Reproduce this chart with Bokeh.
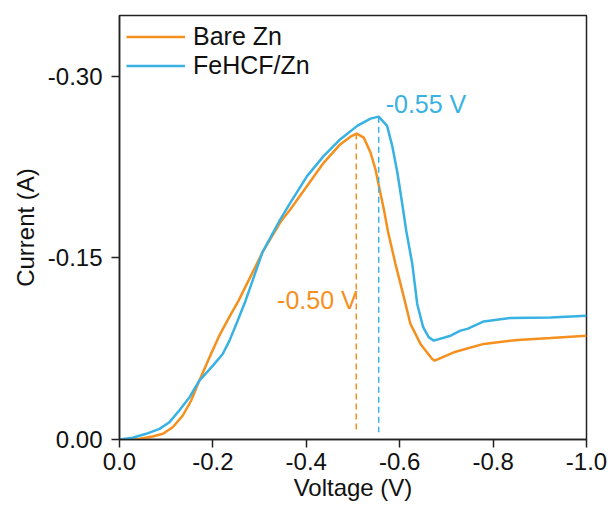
from bokeh.plotting import figure
from bokeh.models import Range1d, Label, Legend, LegendItem, FixedTicker, NumeralTickFormatter
from bokeh.embed import file_html
from bokeh.resources import INLINE

# ---- data ----
bare_v = [0, -0.043, -0.071, -0.093, -0.114, -0.1355, -0.1535, -0.171, -0.193, -0.214,
          -0.235, -0.255, -0.280, -0.306, -0.345, -0.366, -0.402, -0.4375, -0.473, -0.4946,
          -0.508, -0.523, -0.5375, -0.548, -0.555, -0.566, -0.575, -0.591, -0.609, -0.623,
          -0.6445, -0.6695, -0.675, -0.716, -0.780, -0.852, -0.923, -1.0]
bare_i = [0, -0.0006, -0.0025, -0.0047, -0.0101, -0.0198, -0.0322, -0.0486, -0.0680, -0.0860,
          -0.1010, -0.1146, -0.1340, -0.1544, -0.1797, -0.1900, -0.2094, -0.2286, -0.2438, -0.2500,
          -0.2525, -0.2492, -0.2369, -0.2232, -0.2100, -0.1900, -0.1715, -0.1448, -0.1173, -0.0954,
          -0.0789, -0.0665, -0.0651, -0.0720, -0.0789, -0.0822, -0.0838, -0.0857]

fehcf_v = [0, -0.028, -0.057, -0.0857, -0.107, -0.128, -0.150, -0.171, -0.200, -0.221,
           -0.2355, -0.253, -0.270, -0.306, -0.345, -0.366, -0.402, -0.4375, -0.473, -0.509,
           -0.5375, -0.555, -0.573, -0.584, -0.595, -0.605, -0.614, -0.627, -0.6375, -0.650,
           -0.662, -0.673, -0.709, -0.730, -0.745, -0.780, -0.837, -0.923, -1.0]
fehcf_i = [0, -0.0015, -0.0047, -0.0088, -0.0143, -0.0239, -0.0349, -0.0486, -0.0610, -0.0706,
           -0.0816, -0.0981, -0.1146, -0.1544, -0.1822, -0.1956, -0.2176, -0.2341, -0.2479, -0.2589,
           -0.2649, -0.2665, -0.2589, -0.2424, -0.2204, -0.1956, -0.1723, -0.1448, -0.1119, -0.0930,
           -0.0845, -0.0816, -0.0857, -0.0899, -0.0913, -0.0975, -0.1003, -0.1008, -0.1022]

series_names = ["Bare Zn", "FeHCF/Zn"]
peak_v = [-0.507, -0.555]
peak_i = [-0.2525, -0.2665]
dash_end_i = [-0.006, -0.006]
peak_labels = ["-0.50 V", "-0.55 V"]
x_ticks = [0, -0.2, -0.4, -0.6, -0.8, -1.0]
y_ticks = [0, -0.15, -0.30]

ORANGE = "#F5901E"
BLUE = "#38B1E3"
FONT = "Liberation Sans"

p = figure(width=608, height=504, output_backend="svg", toolbar_location=None,
           x_range=Range1d(0, -1.0), y_range=Range1d(0, -0.35),
           min_border_left=119, min_border_right=22, min_border_top=15, min_border_bottom=65)
p.xgrid.visible = False
p.ygrid.visible = False
p.outline_line_color = "#222222"
p.outline_line_width = 1.5
p.background_fill_color = "white"

r1 = p.line(bare_v, bare_i, line_color=ORANGE, line_width=2.5)
r2 = p.line(fehcf_v, fehcf_i, line_color=BLUE, line_width=2.5)

colors = [ORANGE, BLUE]
for k in range(2):
    p.segment(x0=[peak_v[k]], y0=[peak_i[k]], x1=[peak_v[k]], y1=[dash_end_i[k]],
              line_color=colors[k], line_width=1.5, line_dash="6 4")

p.add_layout(Label(x=-0.51, y=-0.115, text=peak_labels[0], text_color=ORANGE,
                   text_font=FONT, text_font_size="25px", text_align="right",
                   text_baseline="middle"))
p.add_layout(Label(x=-0.57, y=-0.277, text=peak_labels[1], text_color=BLUE,
                   text_font=FONT, text_font_size="25px", text_align="left",
                   text_baseline="middle"))

for ax in (p.xaxis[0], p.yaxis[0]):
    ax.axis_line_color = "#222222"
    ax.axis_line_width = 1.5
    ax.major_tick_line_color = "#222222"
    ax.major_tick_line_width = 1.5
    ax.major_tick_out = 8
    ax.major_tick_in = 0
    ax.minor_tick_line_color = None
    ax.major_label_text_font = FONT
    ax.major_label_text_font_size = "24px"
    ax.major_label_text_color = "#111111"
    ax.axis_label_text_font = FONT
    ax.axis_label_text_font_size = "24px"
    ax.axis_label_text_font_style = "normal"
    ax.axis_label_text_color = "#111111"

p.xaxis.ticker = FixedTicker(ticks=x_ticks)
p.yaxis.ticker = FixedTicker(ticks=y_ticks)
p.xaxis.formatter = NumeralTickFormatter(format="0.0")
p.yaxis.formatter = NumeralTickFormatter(format="0.00")
p.xaxis.axis_label = "Voltage (V)"
p.yaxis.axis_label = "Current (A)"
p.xaxis.major_label_standoff = 5
p.yaxis.major_label_standoff = 9
p.xaxis.axis_label_standoff = 1
p.yaxis.axis_label_standoff = 6

legend = Legend(items=[LegendItem(label=series_names[0], renderers=[r1]),
                       LegendItem(label=series_names[1], renderers=[r2])],
                location="top_left")
legend.border_line_color = None
legend.background_fill_alpha = 0
legend.label_text_font = FONT
legend.label_text_font_size = "25px"
legend.label_text_color = "#111111"
legend.glyph_width = 59
legend.glyph_height = 29
legend.label_height = 29
legend.spacing = 0
legend.padding = 8
legend.margin = 7
legend.label_standoff = 8
p.add_layout(legend)

open("out.html", "w").write(file_html(p, INLINE))
